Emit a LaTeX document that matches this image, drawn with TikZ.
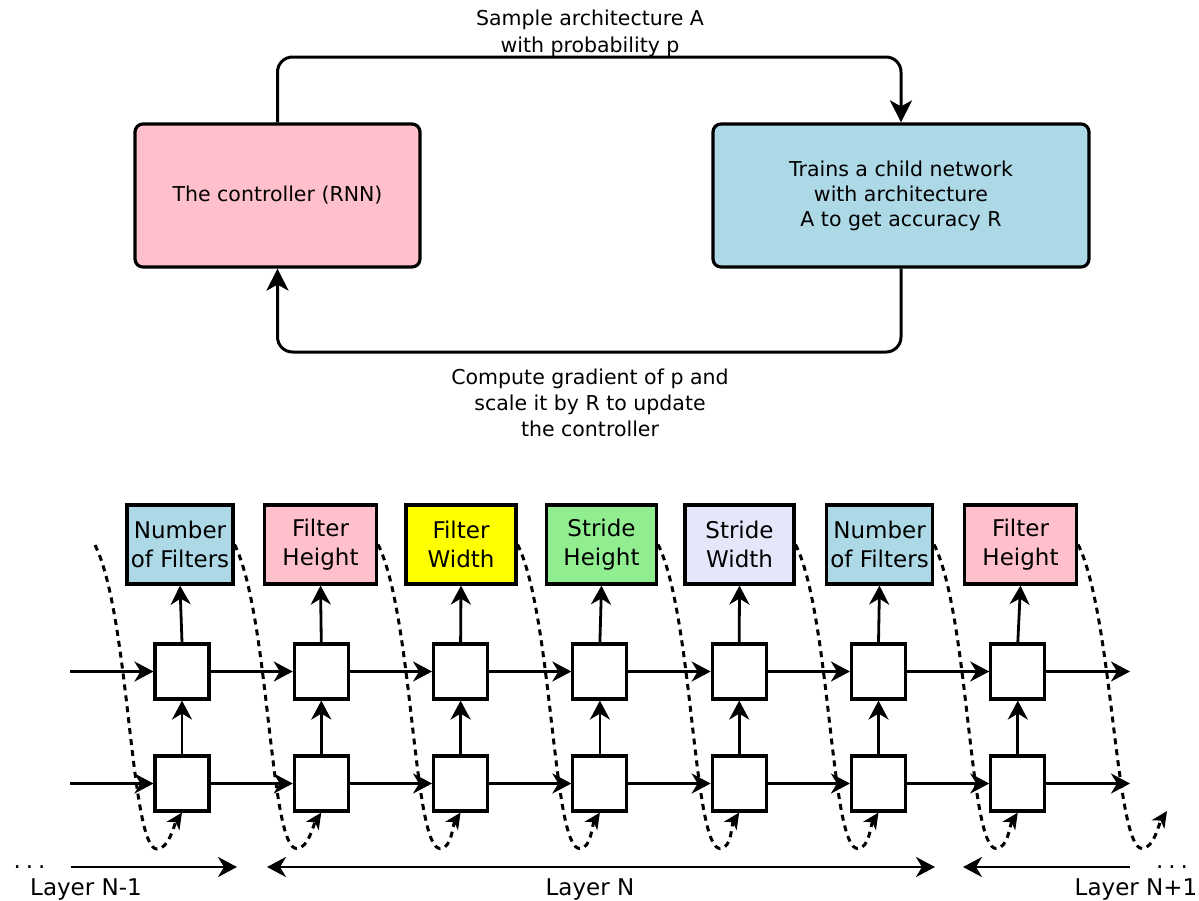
\documentclass[tikz,border=0pt]{standalone}
\usepackage{fontspec}
\setmainfont{DejaVu Sans}
\usetikzlibrary{arrows.meta,calc}
\definecolor{nasPink}{RGB}{255,192,203}
\definecolor{nasBlue}{RGB}{173,216,230}
\definecolor{nasYellow}{RGB}{255,255,0}
\definecolor{nasGreen}{RGB}{144,238,144}
\definecolor{nasLavender}{RGB}{230,230,250}

\begin{document}
\begin{tikzpicture}[x=1pt,y=-1pt,
  >={Stealth[length=19pt,width=20pt,inset=6pt]},
  bigbox/.style={draw, line width=3.2pt, rounded corners=8pt, minimum height=143pt,
    align=center, inner sep=0pt, font=\fontsize{20.5}{25}\selectfont},
  note/.style={align=center, inner sep=0pt, font=\fontsize{20.5}{26}\selectfont},
  loopline/.style={line width=3pt, rounded corners=15pt,
    -{Stealth[length=22pt,width=22pt,inset=6pt]}},
  choice/.style={draw, line width=3.1pt, minimum height=79pt, align=center,
    inner sep=0pt, font=\fontsize{23}{29}\selectfont},
  cell/.style={draw, line width=3.1pt, fill=white, minimum width=54pt,
    minimum height=55pt, inner sep=0pt},
  flow/.style={line width=2.8pt, ->},
  carry/.style={line width=3pt, dash pattern=on 6pt off 5pt,
    -{Stealth[length=16pt,width=15pt,inset=4.5pt]}},
  layertext/.style={inner sep=0pt, anchor=base, font=\fontsize{23}{28}\selectfont},
]
\useasboundingbox (0,0) rectangle (1199,900);
\fill[white] (0,0) rectangle (1199,900);

% ---- search loop: controller and child network ----
\node[bigbox, fill=nasPink, minimum width=285pt] (ctrl) at (277.5,195.5)
  {The controller (RNN)};
\node[bigbox, fill=nasBlue, minimum width=376pt] (child) at (901,195.5)
  {Trains a child network\\with architecture\\A to get accuracy R};

\draw[loopline] (ctrl.north) -- (ctrl.north |- 0,57) -| (child.north);
\draw[loopline] (child.south) -- (child.south |- 0,352) -| (ctrl.south);

\node[note, font=\fontsize{20.5}{27}\selectfont] (sample) at (590,33)
  {Sample architecture A\\with probability p};
\node[note] (update) at (590,403)
  {Compute gradient of p and\\scale it by R to update\\the controller};

% ---- unrolled controller ----
\node[choice, fill=nasBlue,     minimum width=106pt] (h1) at (180,544.5)   {Number\\of Filters};
\node[choice, fill=nasPink,     minimum width=112pt] (h2) at (320.5,544.5) {Filter\\Height};
\node[choice, fill=nasYellow,   minimum width=110pt] (h3) at (461,544.5)   {Filter\\Width};
\node[choice, fill=nasGreen,    minimum width=110pt] (h4) at (601.5,544.5) {Stride\\Height};
\node[choice, fill=nasLavender, minimum width=109pt] (h5) at (739.5,544.5) {Stride\\Width};
\node[choice, fill=nasBlue,     minimum width=106pt] (h6) at (879.5,544.5) {Number\\of Filters};
\node[choice, fill=nasPink,     minimum width=112pt] (h7) at (1020.5,544.5) {Filter\\Height};

\foreach \i in {1,...,7} {
  \pgfmathsetmacro\cx{182+139.3*(\i-1)}
  \node[cell] (u\i) at (\cx,671.5) {};
  \node[cell] (d\i) at (\cx,783.5) {};
}

\coordinate (uin)  at (70,671.5);
\coordinate (din)  at (70,783.5);
\coordinate (uout) at (1130,671.5);
\coordinate (dout) at (1130,783.5);

\draw[flow] (uin) -- (u1.west);
\draw[flow] (din) -- (d1.west);
\draw[flow] (u7.east) -- (uout);
\draw[flow] (d7.east) -- (dout);

\foreach \i in {1,...,7} {
  \draw[flow] (u\i.north) -- (h\i.south);
  \draw[flow] (d\i.north) -- (u\i.south);
}
\foreach \i in {1,...,6} {
  \pgfmathtruncatemacro\j{\i+1}
  \draw[flow] (u\i.east) -- (u\j.west);
  \draw[flow] (d\i.east) -- (d\j.west);
}

% ---- dotted carries: each output feeds the next step ----
\coordinate (carryin)  at (95,545);
\coordinate (carryout) at (1167,811);
\draw[carry] (carryin) .. controls +(35,70) and +(-27,0) .. ($(carryin)+(62,304)$)
  .. controls +(12,0) and +(-8,12) .. (d1.south);
\foreach \i in {1,...,6} {
  \pgfmathtruncatemacro\j{\i+1}
  \draw[carry] (h\i.east) .. controls +(35,70) and +(-27,0) .. ($(h\i.east)+(62,304)$)
    .. controls +(12,0) and +(-8,12) .. (d\j.south);
}
\draw[carry] (h7.east) .. controls +(35,70) and +(-27,0) .. ($(h7.east)+(64,304)$)
  .. controls +(12,0) and +(-8,12) .. (carryout);

% ---- layer spans ----
\coordinate (l1a) at (71,867);   \coordinate (l1b) at (237,867);
\coordinate (l2a) at (267,867);  \coordinate (l2b) at (935,867);
\coordinate (l3a) at (1130,867); \coordinate (l3b) at (963,867);
\draw[flow] (l1a) -- (l1b);
\draw[line width=2.8pt, <->] (l2a) -- (l2b);
\draw[flow] (l3a) -- (l3b);

\node[layertext] (dotsl) at (29.5,868) {.\kern5pt.\kern5pt.};
\node[layertext] (dotsr) at (1172,868) {.\kern5pt.\kern5pt.};
\node[layertext] (lprev) at (86,895)   {Layer N-1};
\node[layertext] (lcur)  at (590,895)  {Layer N};
\node[layertext] (lnext) at (1136,895) {Layer N+1};
\end{tikzpicture}
\end{document}
